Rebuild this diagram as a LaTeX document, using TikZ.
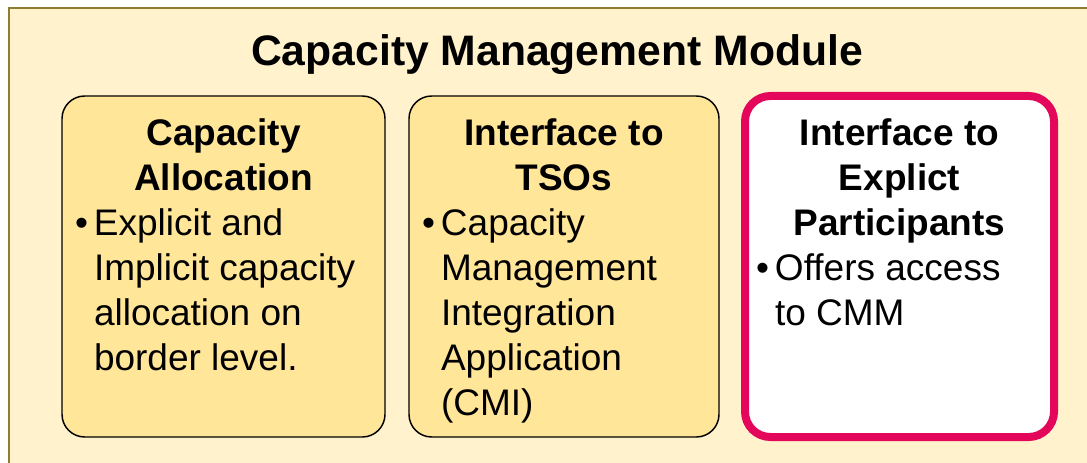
\documentclass[tikz,border=0pt]{standalone}
\usepackage{fontspec}
\setmainfont{Liberation Sans}
\usetikzlibrary{positioning}

\definecolor{modulebg}{HTML}{FFF2CC}
\definecolor{moduleline}{HTML}{8F7C2F}
\definecolor{boxyellow}{HTML}{FFE699}
\definecolor{keyred}{HTML}{E3065B}

\newcommand{\bodysize}{\fontsize{27.75pt}{33.75pt}\selectfont}
\newcommand{\bul}{\makebox[14.25pt][l]{\textbullet}}
\newcommand{\ind}{\hspace*{14.25pt}}

\tikzset{
  compbox/.style={draw=black, line width=1.1pt, rounded corners=17pt, fill=boxyellow,
    minimum height=255.75pt, inner sep=0pt, outer sep=0pt},
  keybox/.style={compbox, draw=keyred, line width=6pt, fill=white, rounded corners=19pt},
  head/.style={font=\bodysize\bfseries, align=center, inner sep=0pt, outer sep=0pt},
  item/.style={font=\bodysize, align=left, inner sep=0pt, outer sep=0pt},
}

\begin{document}
\begin{tikzpicture}[x=0.75pt, y=-0.75pt]
  \useasboundingbox (0,0) rectangle (1087,463);
  \draw[fill=modulebg, draw=moduleline, line width=1.1pt] (9,8) rectangle (1110,490);

  \node[anchor=base, font=\fontsize{32pt}{38pt}\selectfont\bfseries] (title) at (557,66)
    {Capacity Management Module};

  \node[compbox, minimum width=242.25pt] (alloc) at (223.5,266.5) {};
  \node[compbox, minimum width=232.5pt] (tso) at (564,266.5) {};
  \node[keybox, minimum width=231.75pt] (expl) at (899.5,266.5) {};

  % headings
  \node[head, below=17.25pt of alloc.north] (allocHead) {Capacity\\Allocation};
  \node[head, below=17.25pt of tso.north] (tsoHead) {Interface to\\TSOs};
  \node[head, below=17.25pt of expl.north] (explHead) {Interface to\\Explict\\Participants};

  % bullet items
  \node[item, below right=84.75pt and 9.75pt of alloc.north west] (allocItem)
    {\bul Explicit and\\
     \ind Implicit capacity\\
     \ind allocation on\\
     \ind border level.};
  \node[item, below right=84.75pt and 9.75pt of tso.north west] (tsoItem)
    {\bul Capacity\\
     \ind Management\\
     \ind Integration\\
     \ind Application\\
     \ind (CMI)};
  \node[item, below right=118.5pt and 8.25pt of expl.north west] (explItem)
    {\bul Offers access\\
     \ind to CMM};
\end{tikzpicture}
\end{document}
